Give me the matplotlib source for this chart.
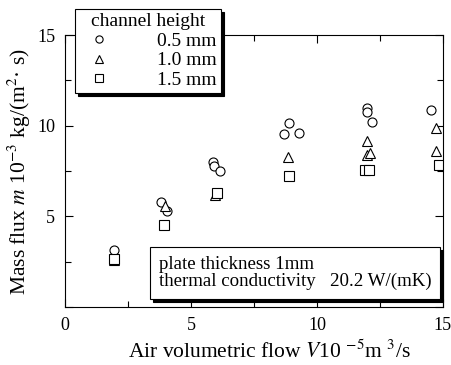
import matplotlib
matplotlib.use('Agg')
import matplotlib.pyplot as plt
from matplotlib.lines import Line2D

plt.rcParams['font.family'] = ['Liberation Serif', 'DejaVu Serif']
plt.rcParams['mathtext.fontset'] = 'stix'
plt.rcParams['font.size'] = 13

# channel height 0.5 mm
circ_x = [1.95, 3.8, 4.03, 5.87, 5.92, 6.14, 8.69, 8.9, 9.29, 11.98, 11.98, 12.17, 14.53]
circ_y = [3.15, 5.78, 5.3, 7.98, 7.8, 7.5, 9.55, 10.15, 9.6, 10.98, 10.76, 10.2, 10.85]
# channel height 1.0 mm
tri_x = [1.95, 3.98, 5.94, 8.86, 11.98, 11.98, 12.1, 14.74, 14.74]
tri_y = [2.6, 5.55, 6.2, 8.26, 9.15, 8.4, 8.5, 9.87, 8.62]
# channel height 1.5 mm
sq_x = [1.95, 3.92, 6.04, 8.9, 11.9, 12.05, 14.83]
sq_y = [2.65, 4.5, 6.28, 7.24, 7.57, 7.57, 7.83]

labels = ['0.5 mm', '1.0 mm', '1.5 mm']

fig = plt.figure(figsize=(4.52, 3.65), dpi=100)
ax = fig.add_axes([0.1438, 0.159, 0.836, 0.745])

style = dict(linestyle='none', mfc='white', mec='black', mew=0.8, ms=6.5)
h1, = ax.plot(circ_x, circ_y, marker='o', label=labels[0], **style)
h2, = ax.plot(tri_x, tri_y, marker='^', label=labels[1], **style)
h3, = ax.plot(sq_x, sq_y, marker='s', label=labels[2], **style)

ax.set_xlim(0, 15)
ax.set_ylim(0, 15)
ax.set_xticks([0, 5, 10, 15])
ax.set_xticks([2.5, 7.5, 12.5], minor=True)
ax.set_yticks([0, 5, 10, 15])
ax.set_yticklabels(['', '5', '10', '15'])
ax.set_yticks([2.5, 7.5, 12.5], minor=True)
ax.tick_params(which='both', direction='in', top=True, right=True, width=0.8)
ax.tick_params(which='major', length=6, pad=7)
ax.tick_params(which='minor', length=4)
for s in ax.spines.values():
    s.set_linewidth(0.8)

ax.set_xlabel('Air volumetric flow $V$10 $^{-5}$m $^{3}$/s', fontsize=15.5, labelpad=5)
ax.xaxis.label.set_x(0.542)
ax.set_ylabel('Mass flux $m$ 10$^{-3}$ kg/(m$^{2}$· s)', fontsize=15.5, labelpad=3)

leg1 = ax.legend(handles=[h1, h2, h3], title='channel height', loc='upper left',
                 bbox_to_anchor=(0.026, 1.096), borderaxespad=0, fancybox=False,
                 edgecolor='black', framealpha=1, handlelength=2.0,
                 handletextpad=2.0, labelspacing=0.1, borderpad=0.22,
                 markerscale=0.8, shadow={'color': 'black', 'alpha': 1},
                 fontsize=14, title_fontsize=14)
leg1.get_frame().set_linewidth(0.8)
ax.add_artist(leg1)

blank = [Line2D([], [], linestyle='none'), Line2D([], [], linestyle='none')]
leg2 = ax.legend(handles=blank,
                 labels=['plate thickness 1mm', 'thermal conductivity   20.2 W/(mK)'],
                 loc='lower right', bbox_to_anchor=(0.992, 0.03), borderaxespad=0,
                 fancybox=False, edgecolor='black', framealpha=1,
                 handlelength=0, handletextpad=0, labelspacing=0.0,
                 borderpad=0.45, shadow={'color': 'black', 'alpha': 1}, fontsize=13.6)
leg2.get_frame().set_linewidth(0.8)

fig.savefig('out.png', dpi=100)
